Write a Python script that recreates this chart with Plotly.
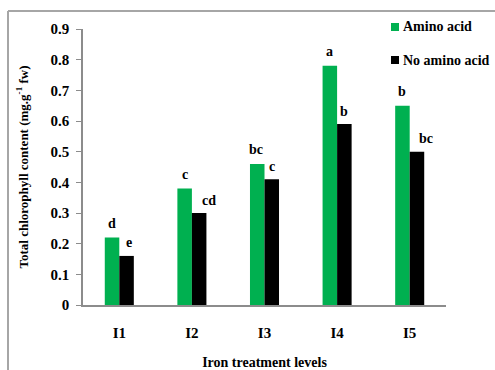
import plotly.graph_objects as go

# Iron treatment levels and total chlorophyll (mg/g fresh weight)
levels = ["I1", "I2", "I3", "I4", "I5"]
amino_acid = [0.22, 0.38, 0.46, 0.78, 0.65]
no_amino_acid = [0.16, 0.30, 0.41, 0.59, 0.50]

# Mean-separation letters above each bar
amino_letters = ["d", "c", "bc", "a", "b"]
no_amino_letters = ["e", "cd", "c", "b", "bc"]

series_names = ["Amino acid", "No amino acid"]
y_ticks = [0, 0.1, 0.2, 0.3, 0.4, 0.5, 0.6, 0.7, 0.8, 0.9]

GREEN = "#00B050"
BLACK = "#000000"
AXIS_GREY = "#8c8c8c"
FAMILY = "Liberation Serif, Times New Roman, serif"
FONT = dict(family=FAMILY, size=14, color="#000000", weight="bold")
TICK_FONT = dict(family=FAMILY, size=15, color="#000000", weight="bold")
YTITLE_FONT = dict(family=FAMILY, size=13, color="#000000", weight="bold")

fig = go.Figure()
fig.add_trace(go.Bar(x=levels, y=amino_acid, name=series_names[0],
                     marker=dict(color=GREEN, line=dict(width=0)),
                     showlegend=False))
fig.add_trace(go.Bar(x=levels, y=no_amino_acid, name=series_names[1],
                     marker=dict(color=BLACK, line=dict(width=0)),
                     showlegend=False))

# Letters: pixel shift of each label relative to its bar centre
half_bar = 7.3
amino_nudge = [0, 0, -1, 0, 0]
no_amino_nudge = [2.5, 9.5, 0, 0, 8.5]
annotations = []
for lvl, val, txt, nd in zip(levels, amino_acid, amino_letters, amino_nudge):
    annotations.append(dict(x=lvl, y=val, xref="x", yref="y", text=txt,
                            showarrow=False, xanchor="center", yanchor="middle",
                            xshift=-half_bar + nd, yshift=14, font=FONT))
for lvl, val, txt, nd in zip(levels, no_amino_acid, no_amino_letters, no_amino_nudge):
    annotations.append(dict(x=lvl, y=val, xref="x", yref="y", text=txt,
                            showarrow=False, xanchor="center", yanchor="middle",
                            xshift=half_bar + nd, yshift=13, font=FONT))

# Legend drawn as small squares with labels at the top right
plot_l, plot_r, plot_t, plot_b = 83, 446, 29, 305
W, H = 495, 370
pw, ph = plot_r - plot_l, plot_b - plot_t


def px_x(px):
    return (px - plot_l) / pw


def px_y(py):
    return (plot_b - py) / ph


shapes = []
legend_rows = [(series_names[0], GREEN, 27), (series_names[1], BLACK, 60)]
for name, col, cy in legend_rows:
    shapes.append(dict(type="rect", xref="paper", yref="paper",
                       x0=px_x(391), x1=px_x(399), y0=px_y(cy + 4), y1=px_y(cy - 4),
                       fillcolor=col, line=dict(width=0)))
    annotations.append(dict(x=px_x(401), y=px_y(cy), xref="paper", yref="paper",
                            text=name, showarrow=False, xanchor="left",
                            yanchor="middle", font=FONT))

# Outer chart frame (left and top edges)
frame_x = px_x(8)
frame_y = px_y(11)
shapes.append(dict(type="line", xref="paper", yref="paper",
                   x0=frame_x, x1=frame_x, y0=-1, y1=frame_y,
                   line=dict(color="#a6a6a6", width=2)))
shapes.append(dict(type="line", xref="paper", yref="paper",
                   x0=frame_x, x1=3, y0=frame_y, y1=frame_y,
                   line=dict(color="#a6a6a6", width=2)))

fig.update_layout(
    width=W, height=H,
    margin=dict(l=plot_l, r=W - plot_r, t=plot_t, b=H - plot_b, pad=0),
    paper_bgcolor="white", plot_bgcolor="white",
    barmode="group", bargap=0.6, bargroupgap=0,
    font=FONT,
    annotations=annotations,
    shapes=shapes,
    xaxis=dict(
        automargin=False,
        showline=True, linecolor=AXIS_GREY, linewidth=1.5,
        ticks="", showgrid=False, zeroline=False,
        tickfont=TICK_FONT, ticklabelstandoff=13,
        title=dict(text="Iron treatment levels", font=FONT, standoff=21),
    ),
    yaxis=dict(
        automargin=False,
        range=[0, 0.9], tickvals=y_ticks,
        ticktext=["0"] + [f"{v:.1f}" for v in y_ticks[1:]],
        showline=True, linecolor=AXIS_GREY, linewidth=1.5,
        ticks="outside", ticklen=5, tickcolor=AXIS_GREY, tickwidth=1,
        showgrid=False, zeroline=False,
        tickfont=TICK_FONT, ticklabelstandoff=4,
        title=dict(text="Total chlorophyll content (mg.g<sup>-1</sup> fw)",
                   font=YTITLE_FONT, standoff=19),
    ),
)

fig.write_html("out.html")
